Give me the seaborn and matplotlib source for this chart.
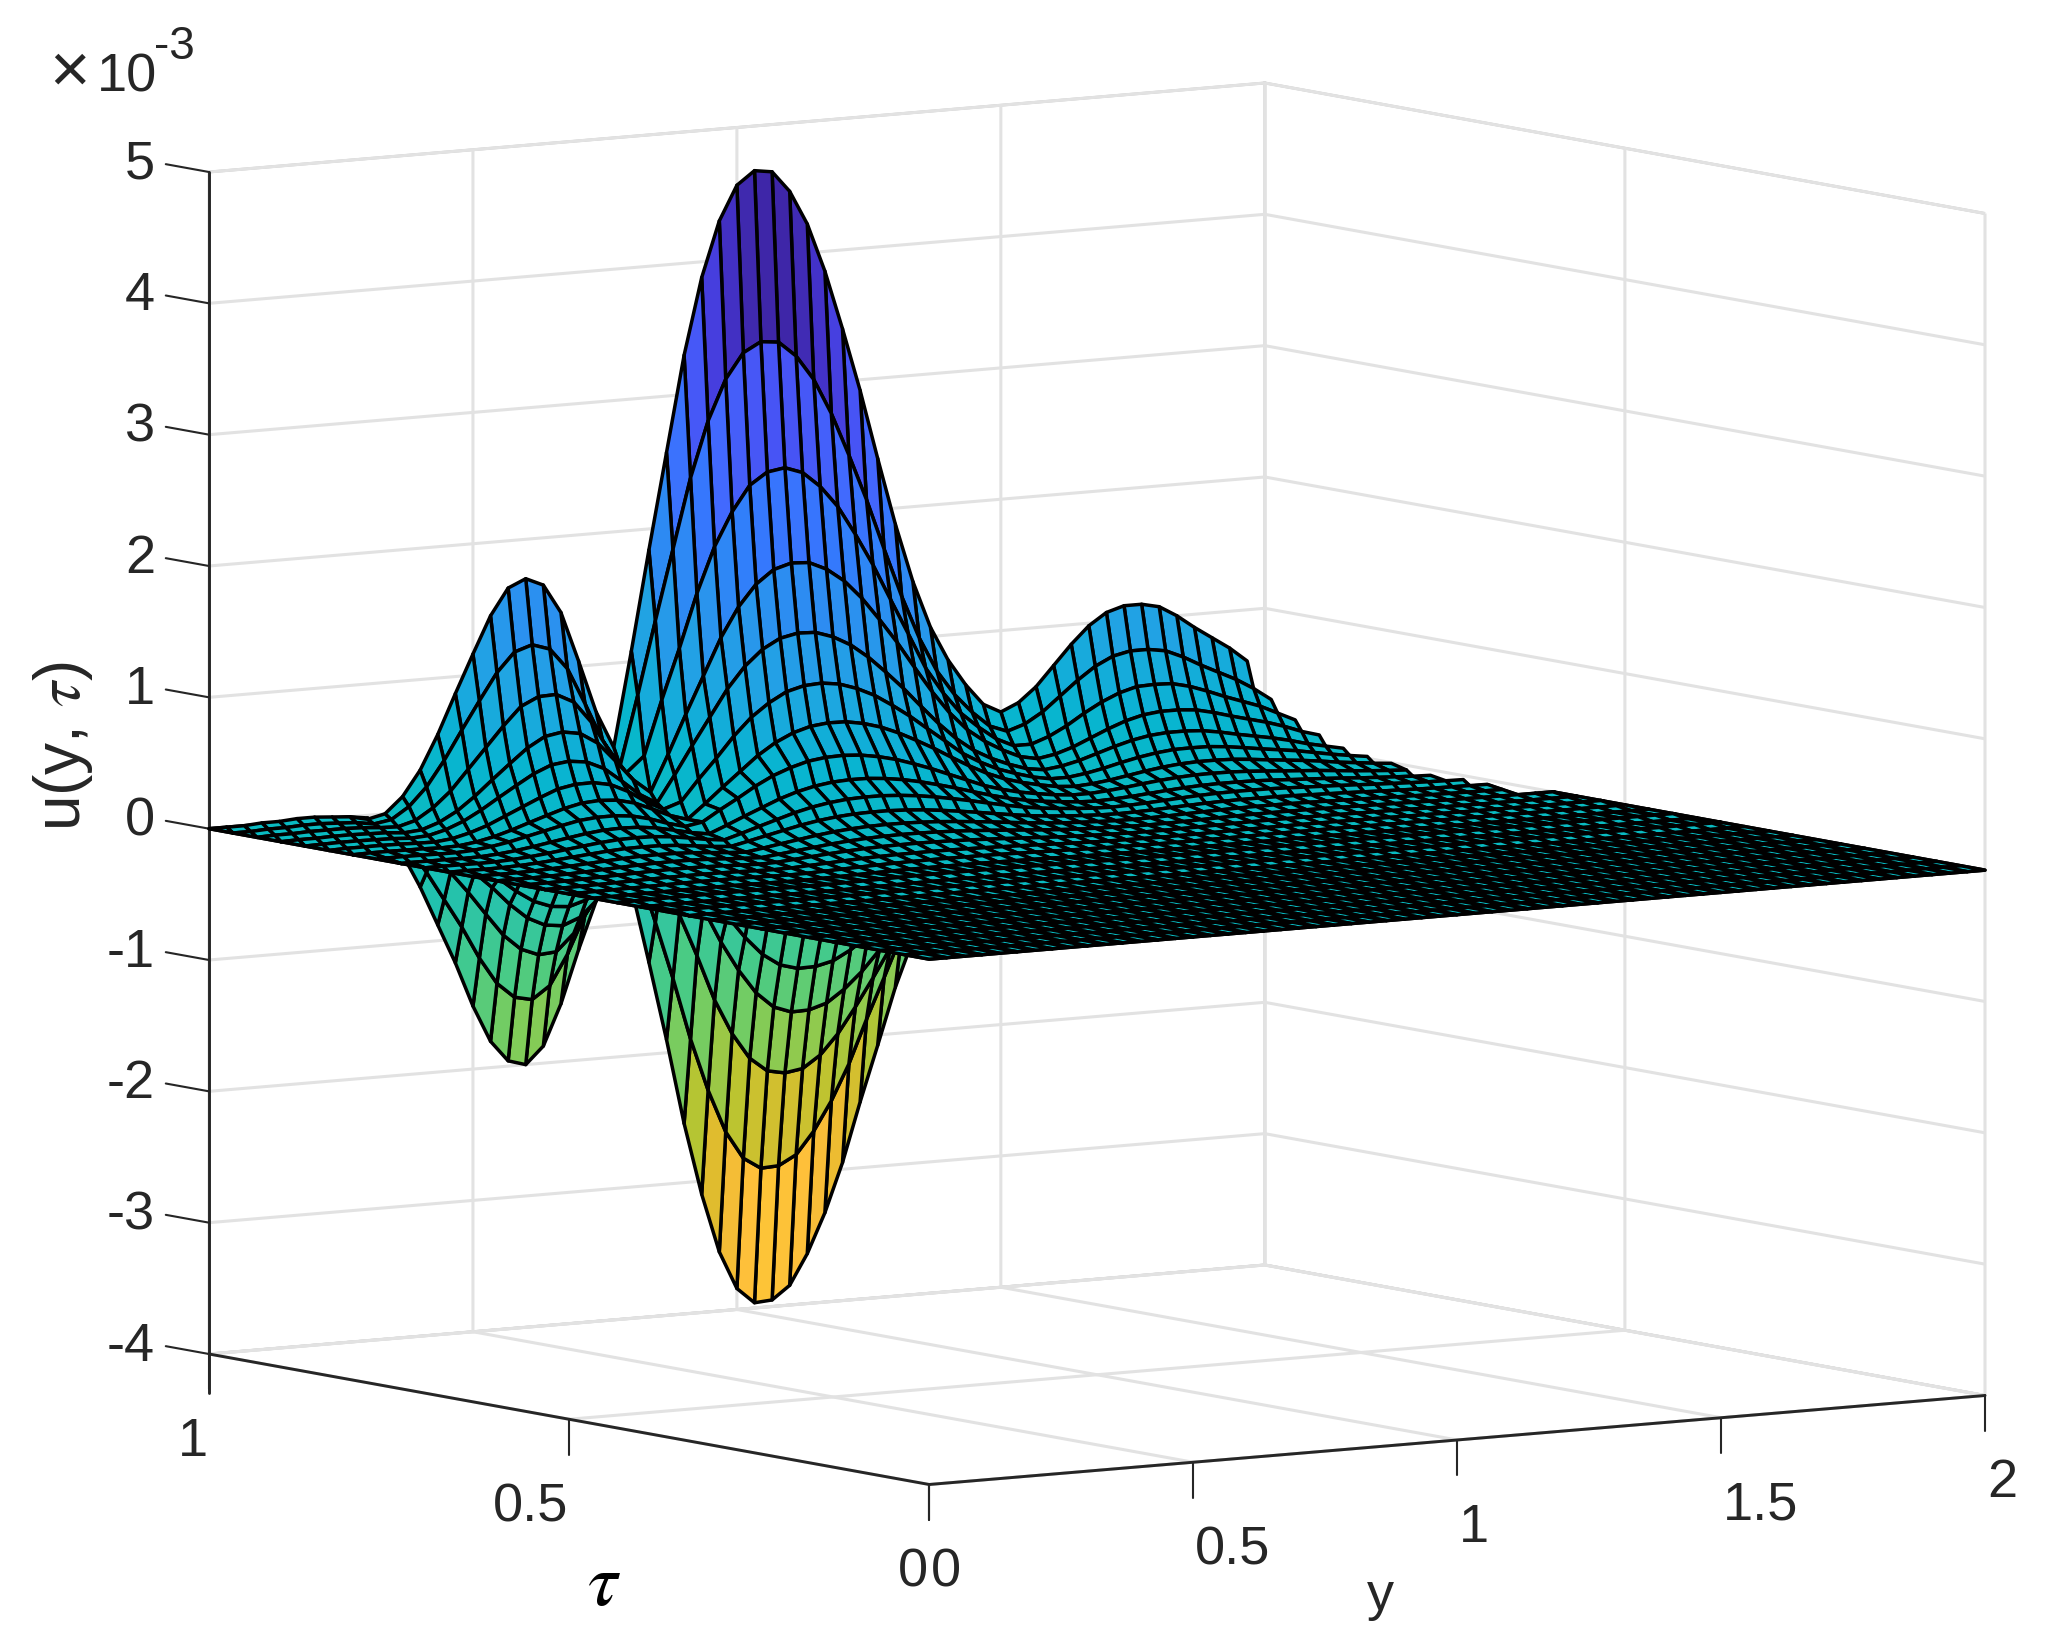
import numpy as np
import matplotlib
matplotlib.use("Agg")
import matplotlib.pyplot as plt
from matplotlib.colors import Normalize
from mpl_toolkits.mplot3d import proj3d
from mpl_toolkits.mplot3d.art3d import Poly3DCollection
import seaborn as sns

sns.set_theme(style="white")
plt.rcParams['font.family'] = ['Liberation Sans', 'DejaVu Sans']
plt.rcParams['mathtext.fontset'] = 'stix'

# tick labels
tau_ticks = [0, 0.5, 1]
tau_labels = ['0', '0.5', '1']
y_ticks = [0, 0.5, 1, 1.5, 2]
y_labels = ['0', '0.5', '1', '1.5', '2']
z_ticks = [-4, -3, -2, -1, 0, 1, 2, 3, 4, 5]

# mesh: 31 tau rows, columns every 1/30 in y
tau_values = np.linspace(1, 0, 31)

# upper sheet read along the tau=1 edge, every 1/60 in y (units of 1e-3)
upper_edge = [0, 0, 0, 0, 0, .01, .01, .01, .01, .02, .02, .02, .02, .02, .01, .01, 0, -.01,
              -.03, -.02, 0, .05, .12, .21, .31, .43, .57, .72, .87, 1.01, 1.16, 1.3, 1.44, 1.56,
              1.64, 1.68, 1.7, 1.69, 1.64, 1.56, 1.42, 1.25, 1.04, .82, .64, .48, .36, .7, 1.08,
              1.48, 1.84, 2.2, 2.57, 2.97, 3.3, 3.62, 3.88, 4.1, 4.3, 4.46, 4.56, 4.63, 4.66, 4.67,
              4.64, 4.58, 4.48, 4.36, 4.22, 4.05, 3.85, 3.63, 3.4, 3.17, 2.92, 2.65, 2.39, 2.14,
              1.88, 1.62, 1.43, 1.24, 1.07, .93, .81, .71, .61, .52, .45, .4, .38, .4, .44, .49,
              .55, .62, .7, .78, .85, .92, .98, 1.03, 1.07, 1.1, 1.11, 1.11, 1.11, 1.1, 1.08, 1.04,
              1.0, .95, .9, .85, .81, .76, .72, .67, .61, .55, .48, .43, .38, .33, .28, .24, .2,
              .17, .14, .12, .1, .08, .06, .05, .04, .03, .02, .02, .01, .01, 0]
# lower sheet read along the same edge
lower_edge = [0] * 18 + [-.02, -.05, -.1, -.2, -.32, -.44, -.58, -.73, -.88, -1.03, -1.18, -1.36,
              -1.52, -1.68, -1.8, -1.9, -1.96, -2.0, -2.0, -1.98, -1.87, -1.74, -1.56, -1.36,
              -1.16, -.98, -.8, -.62, -.45, -.45, -.72, -1.02, -1.3, -1.6, -1.9, -2.2, -2.55,
              -2.85, -3.1, -3.35, -3.55, -3.72, -3.84, -3.92, -3.96, -3.97, -3.95, -3.93, -3.85,
              -3.76, -3.62, -3.48, -3.32, -3.12, -2.95, -2.73, -2.5, -2.32, -2.08, -1.85, -1.65,
              -1.45, -1.3, -1.12, -.97, -.83, -.7, -.6, -.5, -.42, -.35, -.28, -.22, -.17, -.13,
              -.1, -.07, -.05, -.03, -.02, -.01, 0]
# height of each tau row relative to the edge, read from the nested arcs
upper_rows = [1, .73, .53, .385, .28, .205, .15, .105, .075, .055, .04, .028, .02, .014, .009,
              .006, .004, .003, .002, .001, .001, 0, 0, 0, 0, 0, 0, 0, 0, 0, 0]
lower_rows = [1, .73, .537, .41, .315, .235, .17, .12, .085, .06, .04, .03, .02, .012, .008,
              .006, .004, .003, .002, .001, .001, 0, 0, 0, 0, 0, 0, 0, 0, 0, 0]
# sideways drift of the ridges per row, in steps of 1/60 in y
row_drift = [0, 2, 3, 4, 6, 7, 8, 10, 11, 12, 14, 15, 16, 18, 19, 20, 22, 23, 24, 26, 27, 28, 30,
             31, 32, 34, 35, 36, 38, 39, 40]
# how far each row's mesh points sit to the left, in steps of 1/60 in y
mesh_shear = [0, 2, 4, 6, 8, 10, 12, 13, 15, 16, 18, 19, 20, 21, 22, 23, 24, 24, 25, 25, 26, 26,
              26, 26, 26, 26, 26, 26, 26, 26, 26]

n_cols = 74


def sheet(edge, rows):
    """Return y and z of the mesh points; y is NaN past the stepped right-hand rim."""
    edge = np.asarray(edge, float)
    Y = np.zeros((len(tau_values), n_cols))
    Z = np.zeros_like(Y)
    for k in range(len(tau_values)):
        steps = 2 * np.arange(n_cols) - mesh_shear[k]
        rim = 118 if k < 12 else 120
        clipped = np.clip(steps, 0, rim)
        idx = clipped + row_drift[k]
        Z[k] = rows[k] * np.take(edge, idx, mode='clip')
        Z[k][clipped == 0] = 0
        Y[k] = clipped / 60.0
        if k < 12:
            Y[k][steps > rim] = np.nan
    return Y, Z


parula = [(.2422, .1504, .6603), (.2706, .2147, .8364), (.2810, .3228, .9579), (.2602, .4123, .9952),
          (.1963, .4847, .9892), (.1687, .5703, .9359), (.1248, .6459, .8883), (.0297, .7082, .8163),
          (.0433, .7411, .7394), (.1717, .7670, .6554), (.2906, .7973, .5188), (.5044, .7993, .3480),
          (.7242, .7698, .1910), (.9035, .7330, .1774), (.9956, .7434, .2371), (.9892, .8136, .1761),
          (.9597, .8890, .1537), (.9763, .9831, .0538)]
cmap = sns.blend_palette(parula[::-1], n_colors=256, as_cmap=True)
norm = Normalize(vmin=-5.6, vmax=4.67)

W, H = 2054, 1646
fig = plt.figure(figsize=(W / 100, H / 100), dpi=100, facecolor='white')
ax = fig.add_axes([0.05, 0.0, 1646 / 2054, 1.0], projection='3d', proj_type='ortho',
                  computed_zorder=False)
ax.view_init(elev=7.1, azim=-124.3)
ax.set_box_aspect((1, 1, 0.932), zoom=1.0)
ax.set_xlim(0, 2)
ax.set_ylim(0, 1)
ax.set_zlim(-4, 5)


def add_sheet(edge, rows, zorder):
    Y, Z = sheet(edge, rows)
    polys, vals = [], []
    for k in range(len(tau_values) - 1):
        for c in range(n_cols - 1):
            ys = [Y[k, c], Y[k, c + 1], Y[k + 1, c + 1], Y[k + 1, c]]
            if np.any(np.isnan(ys)) or max(ys) == min(ys):
                continue
            polys.append([(Y[k, c], tau_values[k], Z[k, c]),
                          (Y[k, c + 1], tau_values[k], Z[k, c + 1]),
                          (Y[k + 1, c + 1], tau_values[k + 1], Z[k + 1, c + 1]),
                          (Y[k + 1, c], tau_values[k + 1], Z[k + 1, c])])
            vals.append(Z[k, c])
    col = Poly3DCollection(polys, facecolors=cmap(norm(np.array(vals))), edgecolors='black',
                           linewidths=2.5, zsort='average')
    col.set_zorder(zorder)
    ax.add_collection3d(col, autolim=False)


add_sheet(lower_edge, lower_rows, 2)
add_sheet(upper_edge, upper_rows, 3)

ax.set_xticks(y_ticks)
ax.set_yticks(tau_ticks)
ax.set_zticks(z_ticks)
ax.set_xticklabels([])
ax.set_yticklabels([])
ax.set_zticklabels([])
ink = '#262626'
for axis in (ax.xaxis, ax.yaxis, ax.zaxis):
    axis.set_pane_color((1, 1, 1, 1))
    axis.pane.set_edgecolor('#c4c4c4')
    axis.pane.set_linewidth(2)
    axis.line.set_color((0, 0, 0, 0))
    axis._axinfo['grid'].update(color='#e2e2e2', linewidth=2.2)
    axis._axinfo['tick']['inward_factor'] = 0
    axis._axinfo['tick']['outward_factor'] = 0
ax.grid(True)

# box lines and ticks in MATLAB style
lw = 2.1
ax.plot([0, 2], [0, 0], [-4, -4], color=ink, lw=lw, zorder=1)
ax.plot([0, 0], [0, 1], [-4, -4], color=ink, lw=lw, zorder=1)
ax.plot([0, 0], [1, 1], [-4.3, 5], color=ink, lw=lw, zorder=1)
for v in y_ticks:
    ax.plot([v, v], [0, 0], [-4, -4.27], color=ink, lw=1.5, zorder=1)
for v in tau_ticks:
    ax.plot([0, 0], [v, v], [-4, -4.27], color=ink, lw=1.5, zorder=1)
for v in z_ticks:
    ax.plot([0, 0], [1, 1.06], [v, v], color=ink, lw=1.5, zorder=1)

# place the box so its corners land where the reference has them
targets = ((0, 1, -4, 209, 1354), (2, 0, -4, 1985, 1399))


def to_pixels(x, y, z):
    px, py, _p = proj3d.proj_transform(x, y, z, ax.get_proj())
    return ax.transData.transform((px, py))


for _ in range(4):
    fig.canvas.draw()
    pts = np.array([to_pixels(t[0], t[1], t[2]) for t in targets])
    f = (targets[1][3] - targets[0][3]) / (pts[1, 0] - pts[0, 0])
    pos = ax.get_position()
    side = pos.width * W * f
    rel_x = (pts[0, 0] - pos.x0 * W) * f
    rel_y = (pts[0, 1] - pos.y0 * H) * f
    x0 = targets[0][3] - rel_x
    y0 = (H - targets[0][4]) - rel_y
    ax.set_position([x0 / W, y0 / H, side / W, side / H])
fig.canvas.draw()

# tick labels as plain figure text, anchored on the projected tick positions
fs = 39
for v, s in zip(y_ticks, y_labels):
    p = to_pixels(v, 0, -4)
    fig.text((p[0] + 2) / W, (p[1] - 88) / H, s, ha='left', va='center', fontsize=fs, color=ink)
for v, s in zip(tau_ticks, tau_labels):
    p = to_pixels(0, v, -4)
    fig.text((p[0] - 1) / W, (p[1] - 88) / H, s, ha='right', va='center', fontsize=fs, color=ink)
for v in z_ticks:
    p = to_pixels(0, 1, v)
    fig.text((p[0] - 54) / W, (p[1] + 7) / H, str(v), ha='right', va='center', fontsize=fs, color=ink)

fig.text(63 / W, 1 - 746 / H, r'u(y, $\tau$)', rotation=90, ha='center', va='center', fontsize=46, color=ink)
fig.text(604 / W, 1 - 1586 / H, r'$\tau$', ha='center', va='center', fontsize=54, color='black')
fig.text(1380 / W, 1 - 1596 / H, 'y', ha='center', va='center', fontsize=fs, color=ink)
fig.text(70 / W, 1 - 74 / H, '\u00d7', ha='center', va='center', fontsize=50, color=ink)
fig.text(97 / W, 1 - 78 / H, '10', ha='left', va='center', fontsize=fs, color=ink)
fig.text(154 / W, 1 - 47 / H, '-3', ha='left', va='center', fontsize=33, color=ink)

fig.savefig('out.png', dpi=100, facecolor='white')
